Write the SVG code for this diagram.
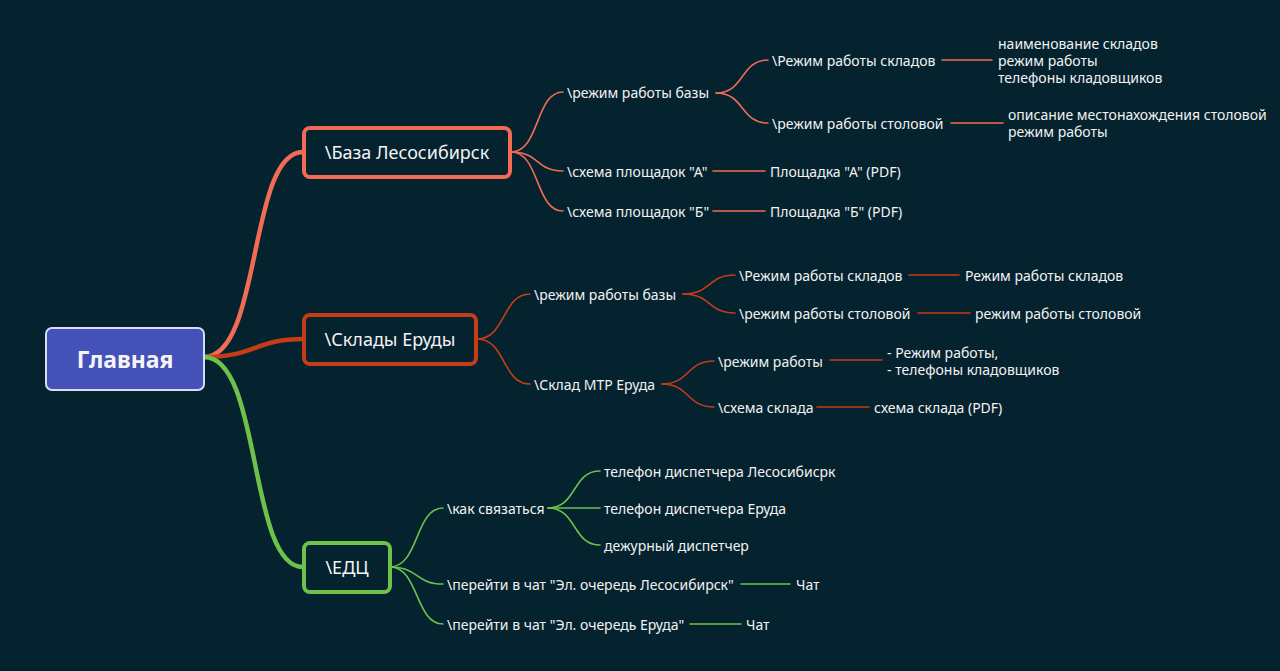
<svg xmlns="http://www.w3.org/2000/svg" width="1280" height="671" viewBox="0 0 1280 671">
<style>
.t{font-family:"Noto Sans","Open Sans","DejaVu Sans",sans-serif;font-size:14px;fill:#f2f2f2;dominant-baseline:central}
.n{font-family:"Noto Sans","Open Sans","DejaVu Sans",sans-serif;font-size:18px;fill:#f4f4f4;text-anchor:middle;dominant-baseline:central}
.s{stroke:#f26b55}
.d{stroke:#c63c17}
.g{stroke:#6cc24a}
.c path{fill:none;stroke-linecap:round}
.thin{stroke-width:1.6}
.thick{stroke-width:4.5}
</style>
<rect width="1280" height="671" fill="#05222f"/>
<g id="connectors" class="c">
<path class="s thick" d="M204,357 C262,357 248,152 303,152"/>
<path class="d thick" d="M204,357 C255,357 255,339 303,339"/>
<path class="g thick" d="M204,357 C262,357 248,567 303,567"/>
<path class="s thin" d="M511,152 C540,152 535,92 563,92"/>
<path class="s thin" d="M511,152 C540,152 535,171 563,171"/>
<path class="s thin" d="M511,152 C540,152 535,211 563,211"/>
<path class="s thin" d="M716,93 C745,93 740,60 768,60"/>
<path class="s thin" d="M716,93 C745,93 740,123 768,123"/>
<path class="s thin" d="M713,171 L765,171"/>
<path class="s thin" d="M713,211 L765,211"/>
<path class="s thin" d="M942,60 L992,60"/>
<path class="s thin" d="M951,123 L1003,123"/>
<path class="d thin" d="M477,339 C506,339 502,294 530,294"/>
<path class="d thin" d="M477,339 C506,339 502,384 530,384"/>
<path class="d thin" d="M683,294 C712,294 707,275 735,275"/>
<path class="d thin" d="M683,294 C712,294 707,313 735,313"/>
<path class="d thin" d="M909,275 L959,275"/>
<path class="d thin" d="M918,313 L970,313"/>
<path class="d thin" d="M662,384 C690,384 686,361 714,361"/>
<path class="d thin" d="M662,384 C690,384 686,407 714,407"/>
<path class="d thin" d="M830,360 L882,360"/>
<path class="d thin" d="M817,407 L869,407"/>
<path class="g thin" d="M390,567 C419,567 415,508 443,508"/>
<path class="g thin" d="M390,567 C419,567 415,584 443,584"/>
<path class="g thin" d="M390,567 C419,567 415,624 443,624"/>
<path class="g thin" d="M548,508 C577,508 572,471 600,471"/>
<path class="g thin" d="M548,508 L600,508"/>
<path class="g thin" d="M548,508 C577,508 572,545 600,545"/>
<path class="g thin" d="M741,584 L790,584"/>
<path class="g thin" d="M690,624 L741,624"/>
</g>
<g id="main">
<rect x="46" y="328" width="158" height="62" rx="6" fill="#4351b9" stroke="#d6dcf5" stroke-width="2"/>
<text class="n" x="125" y="359" style="font-size:23px;font-weight:bold">Главная</text>
</g>
<g id="baza">
<rect x="304" y="128" width="206" height="49" rx="6" fill="#05222f" stroke="#f26b55" stroke-width="4"/>
<text class="n" x="407" y="152">\База Лесосибирск</text>
</g>
<g id="sklady">
<rect x="304" y="315" width="172" height="49" rx="6" fill="#05222f" stroke="#c63c17" stroke-width="4"/>
<text class="n" x="390" y="339">\Склады Еруды</text>
</g>
<g id="edc">
<rect x="304" y="543" width="86" height="49" rx="6" fill="#05222f" stroke="#6cc24a" stroke-width="4"/>
<text class="n" x="347" y="567">\ЕДЦ</text>
</g>
<g id="baza-children">
<text class="t" x="567" y="92">\режим работы базы</text>
<text class="t" x="567" y="171">\схема площадок "А"</text>
<text class="t" x="567" y="211">\схема площадок "Б"</text>
<text class="t" x="772" y="60">\Режим работы складов</text>
<text class="t" x="772" y="123">\режим работы столовой</text>
<text class="t" x="770" y="171">Площадка "А" (PDF)</text>
<text class="t" x="770" y="211">Площадка "Б" (PDF)</text>
<text class="t" x="998" y="43">наименование складов</text>
<text class="t" x="998" y="60">режим работы</text>
<text class="t" x="998" y="77">телефоны кладовщиков</text>
<text class="t" x="1008" y="114">описание местонахождения столовой</text>
<text class="t" x="1008" y="131">режим работы</text>
</g>
<g id="sklady-children">
<text class="t" x="534" y="294">\режим работы базы</text>
<text class="t" x="534" y="384">\Склад МТР Еруда</text>
<text class="t" x="739" y="275">\Режим работы складов</text>
<text class="t" x="739" y="313">\режим работы столовой</text>
<text class="t" x="965" y="275">Режим работы складов</text>
<text class="t" x="975" y="313">режим работы столовой</text>
<text class="t" x="718" y="361">\режим работы</text>
<text class="t" x="718" y="407">\схема склада</text>
<text class="t" x="887" y="352">- Режим работы,</text>
<text class="t" x="887" y="369">- телефоны кладовщиков</text>
<text class="t" x="874" y="407">схема склада (PDF)</text>
</g>
<g id="edc-children">
<text class="t" x="447" y="508">\как связаться</text>
<text class="t" x="447" y="584">\перейти в чат "Эл. очередь Лесосибирск"</text>
<text class="t" x="447" y="624">\перейти в чат "Эл. очередь Еруда"</text>
<text class="t" x="604" y="471">телефон диспетчера Лесосибисрк</text>
<text class="t" x="604" y="508">телефон диспетчера Еруда</text>
<text class="t" x="604" y="545">дежурный диспетчер</text>
<text class="t" x="796" y="584">Чат</text>
<text class="t" x="746" y="624">Чат</text>
</g>
</svg>
